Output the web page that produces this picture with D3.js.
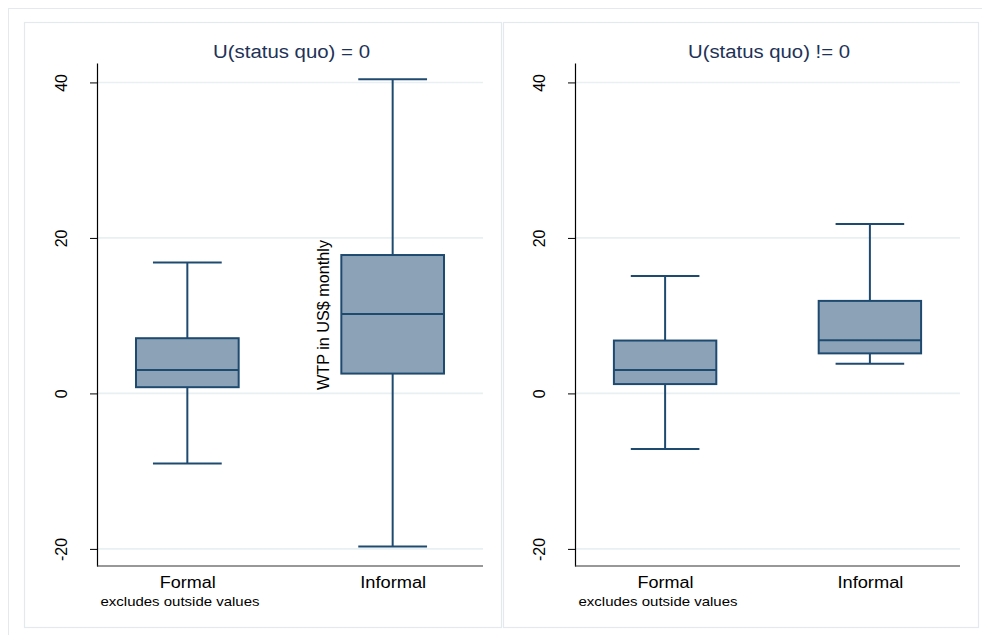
<!DOCTYPE html>
<html>
<head>
<meta charset="utf-8">
<script src="https://cdn.jsdelivr.net/npm/d3@7"></script>
<style>
  html, body { margin: 0; padding: 0; background: #ffffff; }
  svg { display: block; font-family: "Liberation Sans", Arial, Helvetica, sans-serif; }
</style>
</head>
<body>
<svg id="chart" width="982" height="635"></svg>
<script>
// ---- Data ----
const panelTitles = ["U(status quo) = 0", "U(status quo) != 0"];
const categories = ["Formal", "Informal"];
const yTicks = [-20, 0, 20, 40];
const yTickLabels = ["-20", "0", "20", "40"];
// per panel: [Formal, Informal]
const lowerWhisker = [[-9.0, -19.7], [-7.15, 3.8]];
const q1 = [[0.8, 2.55], [1.2, 5.15]];
const median = [[3.0, 10.2], [3.0, 6.85]];
const q3 = [[7.1, 17.8], [6.8, 11.9]];
const upperWhisker = [[16.85, 40.4], [15.1, 21.8]];
const yTitle = "WTP in US$ monthly";
const note = "excludes outside values";

(function () {
// ---- Layout ----
const svg = d3.select("#chart");
const boxFill = "#8ca3b7", boxStroke = "#1f4a70";
const gridColor = "#e9f0f2", frameColor = "#e3eaee";
const titleColor = "#1e3257";

// outer frame
svg.append("rect").attr("x", 8.5).attr("y", 8.5).attr("width", 990).attr("height", 640)
  .attr("fill", "#fff").attr("stroke", frameColor).attr("stroke-width", 1);

const panels = [
  { x0: 24, x1: 501, axisX: 97, axisX1: 483 },
  { x0: 503, x1: 978, axisX: 575, axisX1: 960 }
];
const panelTop = 22, panelBottom = 627;
const y = d3.scaleLinear().domain([-22.2, 42.5]).range([566, 63]);

panels.forEach((p, i) => {
  const g = svg.append("g");
  g.append("rect").attr("x", p.x0 + 0.5).attr("y", panelTop + 0.5)
    .attr("width", p.x1 - p.x0).attr("height", panelBottom - panelTop)
    .attr("fill", "#fff").attr("stroke", frameColor).attr("stroke-width", 1.2);

  const x = d3.scalePoint().domain(categories).range([p.axisX, p.axisX1]).padding(0.44);
  const step = x.step();
  const boxW = step * 0.5, capW = step * 0.335;

  // gridlines
  g.selectAll(".grid").data(yTicks).enter().append("line")
    .attr("x1", p.axisX).attr("x2", p.axisX1)
    .attr("y1", d => y(d)).attr("y2", d => y(d))
    .attr("stroke", gridColor).attr("stroke-width", 1.6);

  // y axis
  const yAxis = d3.axisLeft(y).tickValues(yTicks).tickSize(7).tickSizeOuter(0).tickPadding(0)
    .tickFormat((d, k) => yTickLabels[k]);
  const ya = g.append("g").attr("transform", `translate(${p.axisX},0)`).call(yAxis);
  ya.select(".domain").attr("stroke", "#000").attr("stroke-width", 1.2);
  ya.selectAll(".tick line").attr("stroke", "#000").attr("stroke-width", 1);
  ya.selectAll(".tick text")
    .attr("fill", "#000").style("font-size", "16px")
    .attr("text-anchor", "middle")
    .attr("transform", "translate(-30,0) rotate(-90)")
    .attr("x", 0).attr("y", 0).attr("dy", 0);

  // x axis
  const xAxis = d3.axisBottom(x).tickSize(0).tickSizeOuter(0).tickPadding(0);
  const xa = g.append("g").attr("transform", `translate(0,${y.range()[0]})`).call(xAxis);
  xa.select(".domain").attr("stroke", "#333").attr("stroke-width", 1.2)
    .attr("d", `M${p.axisX},0H${p.axisX1}`);
  xa.selectAll(".tick text").attr("fill", "#000").style("font-size", "16px")
    .attr("y", 22).attr("dy", 0)
    .attr("textLength", d => d === "Formal" ? 56 : 66).attr("lengthAdjust", "spacingAndGlyphs");

  // note
  g.append("text").attr("x", p.axisX + 3.5).attr("y", 606).attr("fill", "#000")
    .style("font-size", "13.5px").attr("textLength", 159).attr("lengthAdjust", "spacingAndGlyphs")
    .text(note);

  // title
  g.append("text").attr("x", (p.axisX + p.axisX1) / 2 + 1.5).attr("y", 58)
    .attr("text-anchor", "middle").attr("fill", titleColor).style("font-size", "18px")
    .attr("textLength", i === 0 ? 157 : 162).attr("lengthAdjust", "spacingAndGlyphs")
    .text(panelTitles[i]);

  // boxes
  const data = categories.map((c, j) => ({
    c, lw: lowerWhisker[i][j], q1: q1[i][j], med: median[i][j], q3: q3[i][j], uw: upperWhisker[i][j]
  }));
  const b = g.selectAll(".box").data(data).enter().append("g");
  b.append("line").attr("x1", d => x(d.c)).attr("x2", d => x(d.c))
    .attr("y1", d => y(d.q3)).attr("y2", d => y(d.uw))
    .attr("stroke", boxStroke).attr("stroke-width", 2);
  b.append("line").attr("x1", d => x(d.c)).attr("x2", d => x(d.c))
    .attr("y1", d => y(d.q1)).attr("y2", d => y(d.lw))
    .attr("stroke", boxStroke).attr("stroke-width", 2);
  b.append("line").attr("x1", d => x(d.c) - capW / 2).attr("x2", d => x(d.c) + capW / 2)
    .attr("y1", d => y(d.uw)).attr("y2", d => y(d.uw))
    .attr("stroke", boxStroke).attr("stroke-width", 2);
  b.append("line").attr("x1", d => x(d.c) - capW / 2).attr("x2", d => x(d.c) + capW / 2)
    .attr("y1", d => y(d.lw)).attr("y2", d => y(d.lw))
    .attr("stroke", boxStroke).attr("stroke-width", 2);
  b.append("rect").attr("x", d => x(d.c) - boxW / 2).attr("width", boxW)
    .attr("y", d => y(d.q3)).attr("height", d => y(d.q1) - y(d.q3))
    .attr("fill", boxFill).attr("stroke", boxStroke).attr("stroke-width", 2);
  b.append("line").attr("x1", d => x(d.c) - boxW / 2).attr("x2", d => x(d.c) + boxW / 2)
    .attr("y1", d => y(d.med)).attr("y2", d => y(d.med))
    .attr("stroke", boxStroke).attr("stroke-width", 2);
});

// y axis title (placed inside the first panel as in the original)
svg.append("text").attr("transform", "translate(328.5,315) rotate(-90)")
  .attr("text-anchor", "middle").attr("fill", "#000").style("font-size", "16px")
  .attr("textLength", 150).attr("lengthAdjust", "spacingAndGlyphs")
  .text(yTitle);
})();
</script>
</body>
</html>
